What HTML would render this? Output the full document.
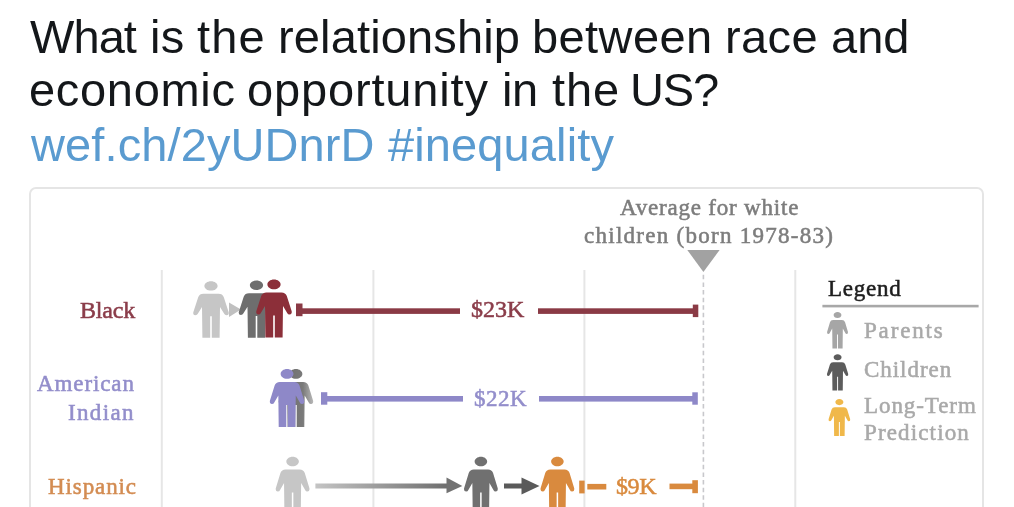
<!DOCTYPE html>
<html><head><meta charset="utf-8">
<style>
body{-webkit-font-smoothing:antialiased}
html,body{margin:0;padding:0;background:#fff;width:1014px;height:507px;overflow:hidden;position:relative}
.t{position:absolute;left:29px;font-family:"Liberation Sans",sans-serif;font-size:47px;white-space:nowrap;color:#14171a;line-height:54px;will-change:transform}
.card{position:absolute;left:29px;top:187px;width:955px;height:340px;border:2px solid #e5e5e5;border-radius:7px;box-sizing:border-box}
.s{position:absolute;font-family:"Liberation Serif",serif;white-space:nowrap;will-change:transform;filter:blur(0.45px)}
svg{position:absolute;left:0;top:0;filter:blur(0.45px)}
.bl{display:inline-block;width:0;height:0}
</style></head><body>
<div class="card"></div>


<div class="t" id="w1" style="left:30.00px;top:9.5px;letter-spacing:-0.933px">What</div>
<div class="t" id="w2" style="left:150.00px;top:9.5px;letter-spacing:0.200px">is</div>
<div class="t" id="w3" style="left:197.00px;top:9.5px;letter-spacing:1.100px">the</div>
<div class="t" id="w4" style="left:277.50px;top:9.5px;letter-spacing:0.145px">relationship</div>
<div class="t" id="w5" style="left:532.00px;top:9.5px;letter-spacing:0.400px">between</div>
<div class="t" id="w6" style="left:724.50px;top:9.5px;letter-spacing:0.400px">race</div>
<div class="t" id="w7" style="left:831.00px;top:9.5px;letter-spacing:-0.000px">and</div>
<div class="t" id="w8" style="left:28.50px;top:63.2px;letter-spacing:0.686px">economic</div>
<div class="t" id="w9" style="left:246.50px;top:63.2px;letter-spacing:0.840px">opportunity</div>
<div class="t" id="w10" style="left:501.50px;top:63.2px;letter-spacing:-0.400px">in</div>
<div class="t" id="w11" style="left:552.00px;top:63.2px;letter-spacing:0.900px">the</div>
<div class="t" id="w12" style="left:630.00px;top:63.2px;letter-spacing:-1.200px">US?</div>
<div class="t" id="w13" style="left:30.50px;top:117.5px;letter-spacing:0.108px;color:#5a9bd0">wef.ch/2yUDnrD</div>
<div class="t" id="w14" style="left:387.50px;top:117.5px;letter-spacing:0.120px;color:#5a9bd0">#inequality</div>
<svg width="1014" height="507" viewBox="0 0 1014 507">
  <defs>
    <path id="p" d="M18 0.2 C21.7 0.2 24.6 2.4 24.6 5 C24.6 7.6 21.7 9.8 18 9.8 C14.3 9.8 11.4 7.6 11.4 5 C11.4 2.4 14.3 0.2 18 0.2 Z M10.5 13 L25.5 13 Q29.5 13 30.8 16.5 L35.7 31.8 Q36.2 34.8 33.6 35 Q31.8 35 31.2 33.5 L27 26.5 L26.6 58 L18.8 58 L18.8 36 L17.2 36 L17.2 58 L9.4 58 L9 26.5 L4.8 33.5 Q4.2 35 2.4 35 Q-0.2 34.8 0.3 31.8 L5.2 16.5 Q6.5 13 10.5 13 Z"/>
    <linearGradient id="ga" x1="0" x2="1"><stop offset="0" stop-color="#c4c4c4"/><stop offset="1" stop-color="#6e6e6e"/></linearGradient>
    <linearGradient id="gs" x1="0" x2="1"><stop offset="0" stop-color="#6a6a6a"/><stop offset="0.7" stop-color="#7a7a7a"/><stop offset="1" stop-color="#b8b8b8"/></linearGradient>
  </defs>
  <!-- gridlines -->
  <g stroke="#e6e6e6" stroke-width="2">
    <line x1="161.8" y1="270" x2="161.8" y2="507"/>
    <line x1="373.4" y1="270" x2="373.4" y2="507"/>
    <line x1="584.4" y1="270" x2="584.4" y2="507"/>
    <line x1="795.3" y1="270" x2="795.3" y2="507"/>
  </g>
  <line x1="703.4" y1="274.85" x2="703.4" y2="507" stroke="#c8c8cc" stroke-width="1.6" stroke-dasharray="4.5 3.1"/>
  <polygon points="687.3,250 719.6,250 703.4,272" fill="#a2a2a2"/>

  <!-- Black row -->
  <use href="#p" transform="translate(193,281) scale(1,0.98)" fill="#c6c6c6"/>
  <polygon points="229,302.5 241,309.5 229,317" fill="#c0c0c0"/>
  <use href="#p" transform="translate(238.5,280.4) scale(1,0.99)" fill="#6e6e6e"/>
  <use href="#p" transform="translate(256,279.4) scale(1,1.0)" fill="#8c2f39"/>
  <rect x="296" y="303.5" width="6.5" height="12.7" fill="#8a3a45"/>
  <rect x="296" y="308.3" width="164" height="5.6" fill="#8a3a45"/>
  <rect x="538" y="308.3" width="157" height="5.6" fill="#8a3a45"/>
  <rect x="692.8" y="304.6" width="5.5" height="12.5" fill="#8a3a45"/>

  <!-- American Indian row -->
  <use href="#p" transform="translate(278.5,368.9) scale(0.97,1)" fill="url(#gs)"/>
  <use href="#p" transform="translate(269.6,368.9) scale(0.97,1)" fill="#8e88c8"/>
  <rect x="321" y="392.2" width="6.3" height="12.5" fill="#8e88c8"/>
  <rect x="321" y="396" width="142" height="5.6" fill="#8e88c8"/>
  <rect x="539" y="396" width="155" height="5.6" fill="#8e88c8"/>
  <rect x="692.3" y="392.3" width="5.5" height="12.4" fill="#8e88c8"/>

  <!-- Hispanic row -->
  <use href="#p" transform="translate(275.5,456.5) scale(0.95,1)" fill="#c6c6c6"/>
  <rect x="315.4" y="483.5" width="133" height="5" fill="url(#ga)"/>
  <polygon points="446.5,477.5 462.3,486 446.5,493.3" fill="#727272"/>
  <use href="#p" transform="translate(463.8,456.5) scale(0.95,1)" fill="#707070"/>
  <rect x="504" y="483.5" width="19" height="5" fill="#5a5a5a"/>
  <polygon points="521.5,477.5 539.5,486 521.5,494.5" fill="#5a5a5a"/>
  <use href="#p" transform="translate(540.3,456.5) scale(0.95,1)" fill="#d98a3e"/>
  <rect x="579.2" y="480.6" width="5.4" height="12.8" fill="#d98a3e"/>
  <rect x="587.3" y="483.9" width="19" height="5.6" fill="#d98a3e"/>
  <rect x="669.5" y="483.6" width="25" height="5.6" fill="#d98a3e"/>
  <rect x="692.3" y="480.2" width="5.6" height="13" fill="#d98a3e"/>

  <!-- legend -->
  <rect x="822.4" y="304.8" width="156.2" height="2.6" fill="#a8a8a8"/>
  <use href="#p" transform="translate(826.9,311.9) scale(0.59,0.63)" fill="#a6a6a6"/>
  <use href="#p" transform="translate(826.8,354) scale(0.6,0.63)" fill="#5c5c5c"/>
  <use href="#p" transform="translate(828.4,398.9) scale(0.61,0.64)" fill="#f0b84a"/>
</svg>

<div class="s" id="avg1" style="left:619.90px;top:194.50px;font-size:23px;color:#7d7d7d;letter-spacing:0.800px;-webkit-text-stroke:0.55px #7d7d7d">Average for white<span class="bl"></span></div>
<div class="s" id="avg2" style="left:584.40px;top:222.81px;font-size:23px;color:#7d7d7d;letter-spacing:1.273px;-webkit-text-stroke:0.55px #7d7d7d">children (born 1978-83)<span class="bl"></span></div>
<div class="s" id="black" style="left:79.50px;top:296.90px;font-size:24px;color:#8b3d4a;letter-spacing:-0.200px;-webkit-text-stroke:0.55px #8b3d4a">Black<span class="bl"></span></div>
<div class="s" id="amer" style="left:37.00px;top:371.41px;font-size:23px;color:#938ecb;letter-spacing:0.900px;-webkit-text-stroke:0.55px #938ecb">American<span class="bl"></span></div>
<div class="s" id="indian" style="left:67.70px;top:400.31px;font-size:23px;color:#938ecb;letter-spacing:1.340px;-webkit-text-stroke:0.55px #938ecb">Indian<span class="bl"></span></div>
<div class="s" id="hisp" style="left:47.80px;top:474.11px;font-size:23px;color:#d38c52;letter-spacing:0.900px;-webkit-text-stroke:0.55px #d38c52">Hispanic<span class="bl"></span></div>
<div class="s" id="k23" style="left:471.20px;top:295.71px;font-size:24px;color:#8b3d4a;letter-spacing:-0.033px;-webkit-text-stroke:0.55px #8b3d4a">$23K<span class="bl"></span></div>
<div class="s" id="k22" style="left:474.10px;top:385.72px;font-size:23px;color:#938ecb;letter-spacing:0.500px;-webkit-text-stroke:0.55px #938ecb">$22K<span class="bl"></span></div>
<div class="s" id="k9" style="left:616.00px;top:473.10px;font-size:24px;color:#d98a3e;letter-spacing:-0.400px;-webkit-text-stroke:0.55px #d98a3e">$9K<span class="bl"></span></div>
<div class="s" id="legend" style="left:828.00px;top:276.22px;font-size:23px;color:#1e1e1e;letter-spacing:0.740px;-webkit-text-stroke:0.55px #1e1e1e">Legend<span class="bl"></span></div>
<div class="s" id="parents" style="left:864.30px;top:318.00px;font-size:23px;color:#a9a9a9;letter-spacing:1.833px;-webkit-text-stroke:0.55px #a9a9a9">Parents<span class="bl"></span></div>
<div class="s" id="children" style="left:863.90px;top:357.31px;font-size:23px;color:#a9a9a9;letter-spacing:0.957px;-webkit-text-stroke:0.55px #a9a9a9">Children<span class="bl"></span></div>
<div class="s" id="longterm" style="left:864.10px;top:392.61px;font-size:23px;color:#a9a9a9;letter-spacing:0.925px;-webkit-text-stroke:0.55px #a9a9a9">Long-Term<span class="bl"></span></div>
<div class="s" id="prediction" style="left:864.10px;top:420.11px;font-size:23px;color:#a9a9a9;letter-spacing:1.144px;-webkit-text-stroke:0.55px #a9a9a9">Prediction<span class="bl"></span></div>
</body></html>
